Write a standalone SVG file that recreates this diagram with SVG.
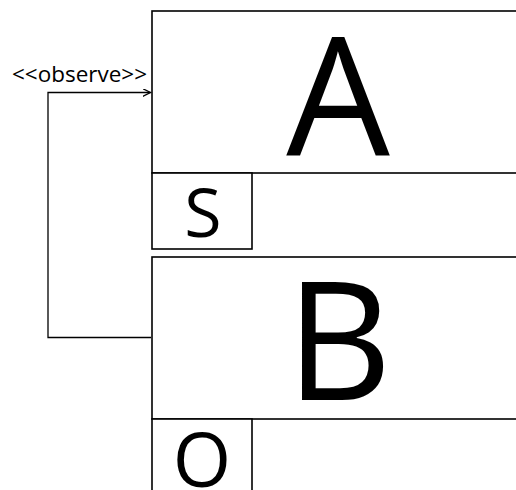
<svg xmlns="http://www.w3.org/2000/svg" width="516" height="490" viewBox="0 0 516 490">
  <style>
    .box { fill: #ffffff; stroke: #000000; stroke-width: 1.6; }
    .conn { fill: none; stroke: #000000; stroke-width: 1.3; }
    .big { font-family: "Open Sans", "Liberation Sans", sans-serif; fill: #000000; text-anchor: middle; }
    .lbl { font-family: "Open Sans", "Liberation Sans", sans-serif; fill: #000000; font-size: 21.5px; }
  </style>
  <defs>
    <marker id="arrow" markerWidth="10" markerHeight="10" refX="8" refY="4" orient="auto" markerUnits="userSpaceOnUse">
      <path d="M0,0 L8,4 L0,8" fill="none" stroke="#000000" stroke-width="1.3"/>
    </marker>
  </defs>
  <rect width="516" height="490" fill="#ffffff"/>
  <g id="A">
    <rect class="box" x="152" y="11" width="400" height="162"/>
    <text class="big" x="338" y="155" font-size="164">A</text>
  </g>
  <g id="S">
    <rect class="box" x="152" y="173" width="100" height="76"/>
    <text class="big" x="203" y="237" font-size="68">S</text>
  </g>
  <g id="B">
    <rect class="box" x="152" y="257" width="400" height="162"/>
    <text class="big" x="339" y="400" font-size="164">B</text>
  </g>
  <g id="O">
    <rect class="box" x="152" y="419" width="100" height="90"/>
    <text class="big" x="202" y="487" font-size="75">O</text>
  </g>
  <g id="connectors">
    <path class="conn" d="M151,337.5 H48 V92.5 H150.5" marker-end="url(#arrow)"/>
    <text class="lbl" x="12" y="81.5" textLength="135" lengthAdjust="spacingAndGlyphs">&lt;&lt;observe&gt;&gt;</text>
  </g>
</svg>
